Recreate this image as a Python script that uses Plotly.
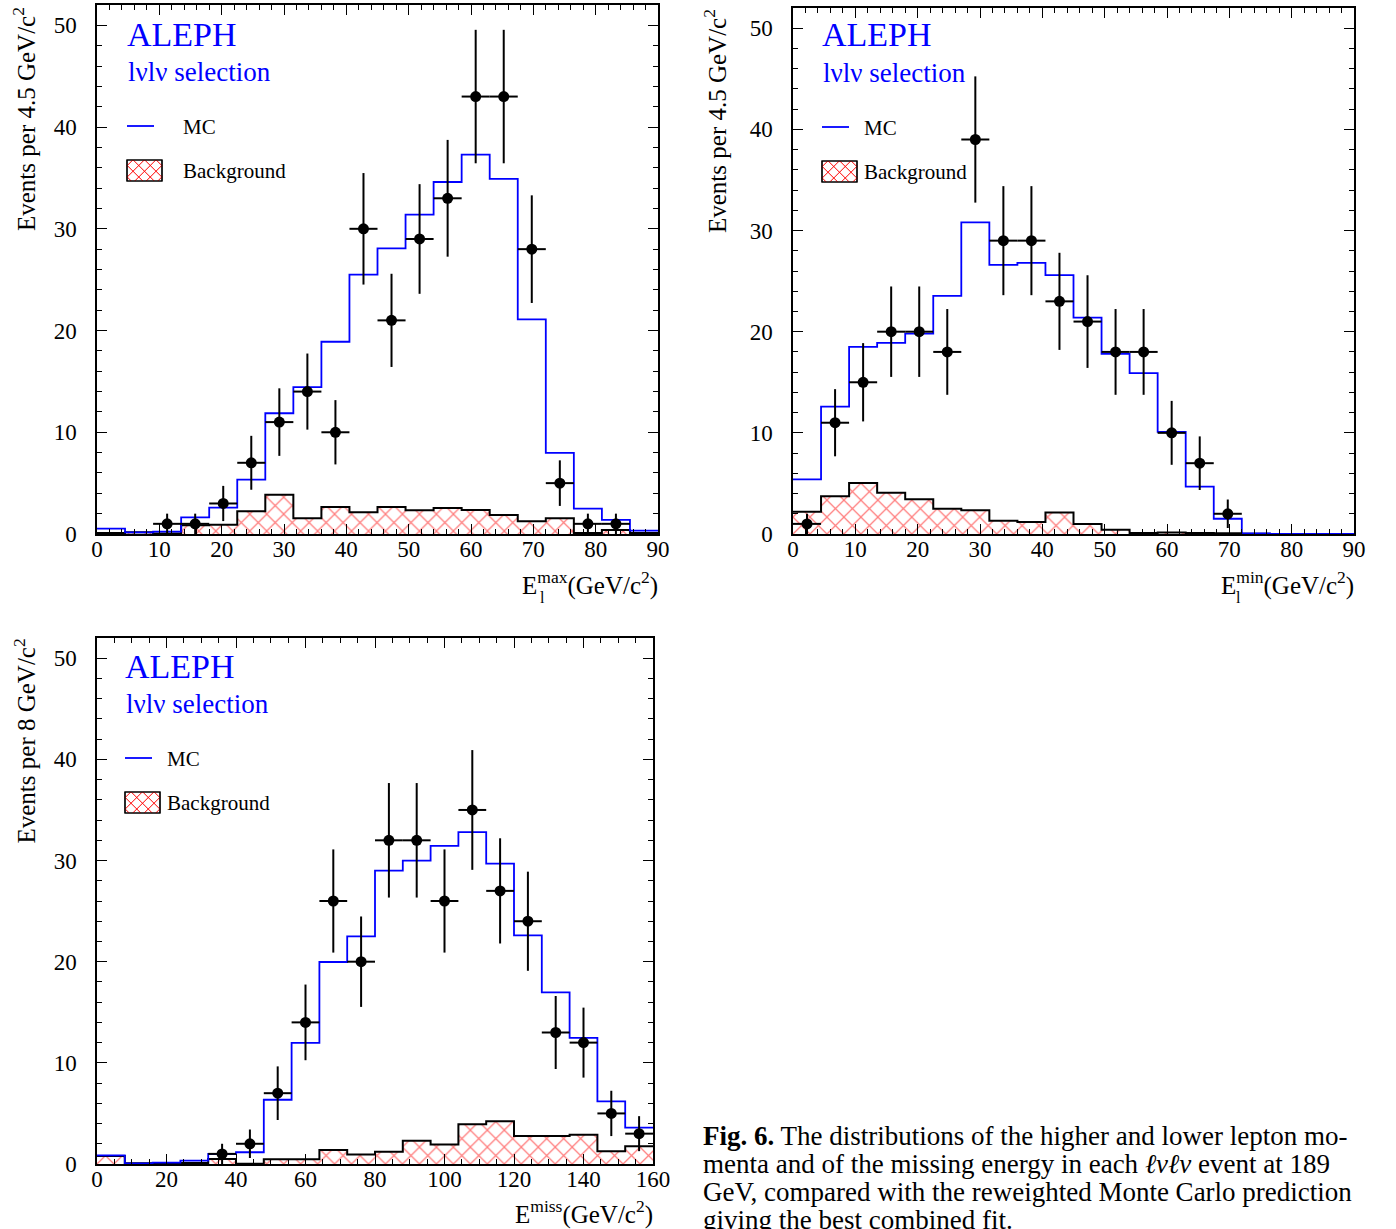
import numpy as np
import plotly.graph_objects as go

W, H = 1396, 1229

# ---------------- DATA ----------------
# Panel 1: E_l^max, 20 bins of 4.5 GeV from 0 to 90
p1_bin_width = 4.5
p1_mc = [0.52, 0.16, 0.23, 1.64, 2.59, 5.34, 11.87, 14.43, 18.9, 25.5,
         28.07, 31.4, 34.6, 37.3, 34.9, 21.1, 7.97, 2.49, 1.38, 0.33]
p1_bg = [0.10, 0.16, 0.05, 0.85, 0.92, 2.23, 3.87, 1.54, 2.66, 2.13,
         2.66, 2.33, 2.56, 2.36, 1.87, 1.25, 1.54, 0.10, 0.39, 0.10]
p1_data_x = [11.25, 15.75, 20.25, 24.75, 29.25, 33.75, 38.25, 42.75, 47.25,
             51.75, 56.25, 60.75, 65.25, 69.75, 74.25, 78.75, 83.25]
p1_data_y = [1, 1, 3, 7, 11, 14, 10, 30, 21, 29, 33, 43, 43, 28, 5, 1, 1]
p1_data_err = [1.0, 1.0, 1.73, 2.65, 3.32, 3.74, 3.16, 5.48, 4.58, 5.39,
               5.74, 6.56, 6.56, 5.29, 2.24, 1.0, 1.0]

# Panel 2: E_l^min, 20 bins of 4.5 GeV from 0 to 90
p2_bin_width = 4.5
p2_mc = [5.41, 12.6, 18.5, 18.9, 19.8, 23.55, 30.8, 26.6, 26.8, 25.6,
         21.4, 17.8, 15.9, 10.1, 4.69, 1.51, 0.07, 0.02, 0.02, 0.02]
p2_bg = [2.2, 3.74, 5.05, 4.07, 3.44, 2.49, 2.36, 1.31, 1.18, 2.13,
         0.98, 0.43, 0.10, 0.16, 0.10, 0.07, 0.03, 0.0, 0.0, 0.0]
p2_data_x = [2.25, 6.75, 11.25, 15.75, 20.25, 24.75, 29.25, 33.75, 38.25,
             42.75, 47.25, 51.75, 56.25, 60.75, 65.25, 69.75]
p2_data_y = [1, 11, 15, 20, 20, 18, 39, 29, 29, 23, 21, 18, 18, 10, 7, 2]
p2_data_err = [1.0, 3.32, 3.87, 4.47, 4.47, 4.24, 6.24, 5.39, 5.39, 4.80,
               4.58, 4.24, 4.24, 3.16, 2.65, 1.41]

# Panel 3: E^miss, 20 bins of 8 GeV from 0 to 160
p3_bin_width = 8.0
p3_mc = [0.86, 0.07, 0.13, 0.33, 0.99, 1.16, 6.35, 11.97, 19.97, 22.5,
         29.0, 30.0, 31.45, 32.8, 29.7, 22.6, 16.96, 12.46, 6.2, 3.6]
p3_bg = [0.79, 0.07, 0.03, 0.10, 0.50, 0.03, 0.46, 0.46, 1.39, 0.93,
         1.22, 2.31, 1.92, 3.93, 4.23, 2.78, 2.78, 2.88, 1.26, 1.75]
p3_data_x = [36, 44, 52, 60, 68, 76, 84, 92, 100, 108, 116, 124, 132, 140, 148, 156]
p3_data_y = [1, 2, 7, 14, 26, 20, 32, 32, 26, 35, 27, 24, 13, 12, 5, 3]
p3_data_err = [1.0, 1.41, 2.65, 3.74, 5.10, 4.47, 5.66, 5.66, 5.10, 5.92,
               5.20, 4.90, 3.61, 3.46, 2.24, 1.73]

# tick / title text
p1_ytitle = "Events per 4.5 GeV/c<sup>2</sup>"
p2_ytitle = "Events per 4.5 GeV/c<sup>2</sup>"
p3_ytitle = "Events per 8 GeV/c<sup>2</sup>"
p1_xtitle = "E<sup>max</sup>(GeV/c<sup>2</sup>)"
p2_xtitle = "E<sup>min</sup>(GeV/c<sup>2</sup>)"
p3_xtitle = "E<sup>miss</sup>(GeV/c<sup>2</sup>)"
caption_lines = [
    "<b>Fig. 6.</b> The distributions of the higher and lower lepton mo-",
    "menta and of the missing energy in each <i>ℓνℓν</i> event at 189",
    "GeV, compared with the reweighted Monte Carlo prediction",
    "giving the best combined fit.",
]

# ---------------- STYLE ----------------
SERIF = "Liberation Serif"
BLUE = "#0000ff"
RED = "#ff0000"


def px_x(px):
    return px / W


def px_y(py):
    return 1 - py / H


fig = go.Figure()


def step_xy(values, bw):
    edges = list(np.arange(len(values) + 1) * bw)
    return edges, list(values) + [values[-1]]


def add_panel(idx, mc, bg, dx, dy, derr, bw):
    xa = "x" if idx == 1 else f"x{idx}"
    ya = "y" if idx == 1 else f"y{idx}"
    ex, ey = step_xy(bg, bw)
    fig.add_trace(go.Scatter(
        x=ex, y=ey, xaxis=xa, yaxis=ya, mode="lines", line_shape="hv",
        line=dict(color="black", width=2), fill="tozeroy", fillcolor="white",
        fillpattern=dict(shape="x", fgcolor=RED, bgcolor="white", size=12, solidity=0.2),
        showlegend=False, hoverinfo="skip"))
    mx, my = step_xy(mc, bw)
    fig.add_trace(go.Scatter(
        x=mx, y=my, xaxis=xa, yaxis=ya, mode="lines", line_shape="hv",
        line=dict(color=BLUE, width=1.8), showlegend=False, hoverinfo="skip"))
    fig.add_trace(go.Scatter(
        x=dx, y=dy, xaxis=xa, yaxis=ya, mode="markers",
        marker=dict(color="black", size=11),
        error_y=dict(type="data", array=derr, width=0, thickness=2, color="black"),
        error_x=dict(type="constant", value=bw / 2, width=0, thickness=2, color="black"),
        showlegend=False, hoverinfo="skip"))


add_panel(1, p1_mc, p1_bg, p1_data_x, p1_data_y, p1_data_err, p1_bin_width)
add_panel(2, p2_mc, p2_bg, p2_data_x, p2_data_y, p2_data_err, p2_bin_width)
add_panel(3, p3_mc, p3_bg, p3_data_x, p3_data_y, p3_data_err, p3_bin_width)

tickfont = dict(family=SERIF, size=23, color="black")


def xcfg(x0, x1, rng, dtick, mdtick, anchor):
    return dict(domain=[px_x(x0), px_x(x1)], range=rng, anchor=anchor,
                showline=True, linecolor="black", linewidth=1.5, mirror="ticks",
                ticks="inside", ticklen=10, tickwidth=1.2, tickcolor="black",
                tick0=0, dtick=dtick,
                minor=dict(dtick=mdtick, tick0=0, ticks="inside", ticklen=5,
                           tickwidth=1.2, tickcolor="black", showgrid=False),
                showgrid=False, zeroline=False, tickfont=tickfont,
                ticklabelstandoff=-6, automargin=False, fixedrange=True)


def ycfg(y0, y1, anchor):
    return dict(domain=[px_y(y1), px_y(y0)], range=[0, 52], anchor=anchor,
                showline=True, linecolor="black", linewidth=1.5, mirror="ticks",
                ticks="inside", ticklen=10, tickwidth=1.2, tickcolor="black",
                tick0=0, dtick=10,
                minor=dict(dtick=2, tick0=0, ticks="inside", ticklen=5,
                           tickwidth=1.2, tickcolor="black", showgrid=False),
                showgrid=False, zeroline=False, tickfont=tickfont,
                ticklabelstandoff=14, automargin=False, fixedrange=True)


fig.update_layout(
    width=W, height=H, autosize=False,
    margin=dict(l=0, r=0, t=0, b=0, autoexpand=False),
    paper_bgcolor="white", plot_bgcolor="white",
    showlegend=False,
    xaxis=xcfg(97, 658, [0, 90], 10, 2, "y"),
    yaxis=ycfg(5, 534, "x"),
    xaxis2=xcfg(793, 1354, [0, 90], 10, 2, "y2"),
    yaxis2=ycfg(8, 534, "x2"),
    xaxis3=xcfg(97, 653, [0, 160], 20, 5, "y3"),
    yaxis3=ycfg(638, 1164, "x3"),
)

annotations = []
shapes = []


def ann(text, x, y, size, color="black", xanchor="left", yanchor="middle", angle=0):
    annotations.append(dict(text=text, x=px_x(x), y=px_y(y), xref="paper", yref="paper",
                            xanchor=xanchor, yanchor=yanchor, showarrow=False,
                            textangle=angle,
                            font=dict(family=SERIF, size=size, color=color)))


def hatch_box(x0, y0, x1, y1, s=11.5):
    shapes.append(dict(type="rect", xref="paper", yref="paper",
                       x0=px_x(x0), x1=px_x(x1), y0=px_y(y1), y1=px_y(y0),
                       line=dict(color="black", width=1.2), fillcolor="white", layer="above"))
    c = y0 - x1 + s / 2
    while c < y1 - x0:
        xa, xb = max(x0, y0 - c), min(x1, y1 - c)
        if xb > xa:
            shapes.append(dict(type="line", xref="paper", yref="paper",
                               x0=px_x(xa), y0=px_y(xa + c), x1=px_x(xb), y1=px_y(xb + c),
                               line=dict(color=RED, width=1), layer="above"))
        c += s
    c = y0 + x0 + s / 2
    while c < y1 + x1:
        xa, xb = max(x0, c - y1), min(x1, c - y0)
        if xb > xa:
            shapes.append(dict(type="line", xref="paper", yref="paper",
                               x0=px_x(xa), y0=px_y(c - xa), x1=px_x(xb), y1=px_y(c - xb),
                               line=dict(color=RED, width=1), layer="above"))
        c += s
    shapes.append(dict(type="rect", xref="paper", yref="paper",
                       x0=px_x(x0), x1=px_x(x1), y0=px_y(y1), y1=px_y(y0),
                       line=dict(color="black", width=1.2), layer="above"))


def panel_text(left, top, textx):
    ann("ALEPH", left - 2, top + 29, 34, BLUE)
    ann("lνlν selection", left - 1, top + 67, 27, BLUE)
    shapes.append(dict(type="line", xref="paper", yref="paper",
                       x0=px_x(left), x1=px_x(left + 27), y0=px_y(top + 121), y1=px_y(top + 121),
                       line=dict(color=BLUE, width=1.8)))
    ann("MC", textx - 2, top + 122, 21)
    hatch_box(left, top + 155, left + 35, top + 176)
    ann("Background", textx - 2, top + 166, 21)


panel_text(127, 5, 183)
panel_text(822, 6, 864)
panel_text(125, 637, 167)

# y titles
ann(p1_ytitle, 24, 5, 25, xanchor="center", yanchor="top", angle=-90)
ann(p2_ytitle, 715, 7, 25, xanchor="center", yanchor="top", angle=-90)
ann(p3_ytitle, 24, 637, 25, xanchor="center", yanchor="top", angle=-90)

# x titles
ann(p1_xtitle, 660, 583, 25, xanchor="right")
ann("l", 538, 597, 16, xanchor="left")
ann(p2_xtitle, 1356, 583, 25, xanchor="right")
ann("l", 1234, 597, 16, xanchor="left")
ann(p3_xtitle, 655, 1212, 25, xanchor="right")

# caption
for i, line in enumerate(caption_lines):
    ann(line, 701, 1136 + 28 * i, 27, xanchor="left")

fig.update_layout(annotations=annotations, shapes=shapes)
fig.write_html("out.html", config={"displayModeBar": False},
               post_script="document.body.style.margin='0';document.body.style.overflow='hidden';")
